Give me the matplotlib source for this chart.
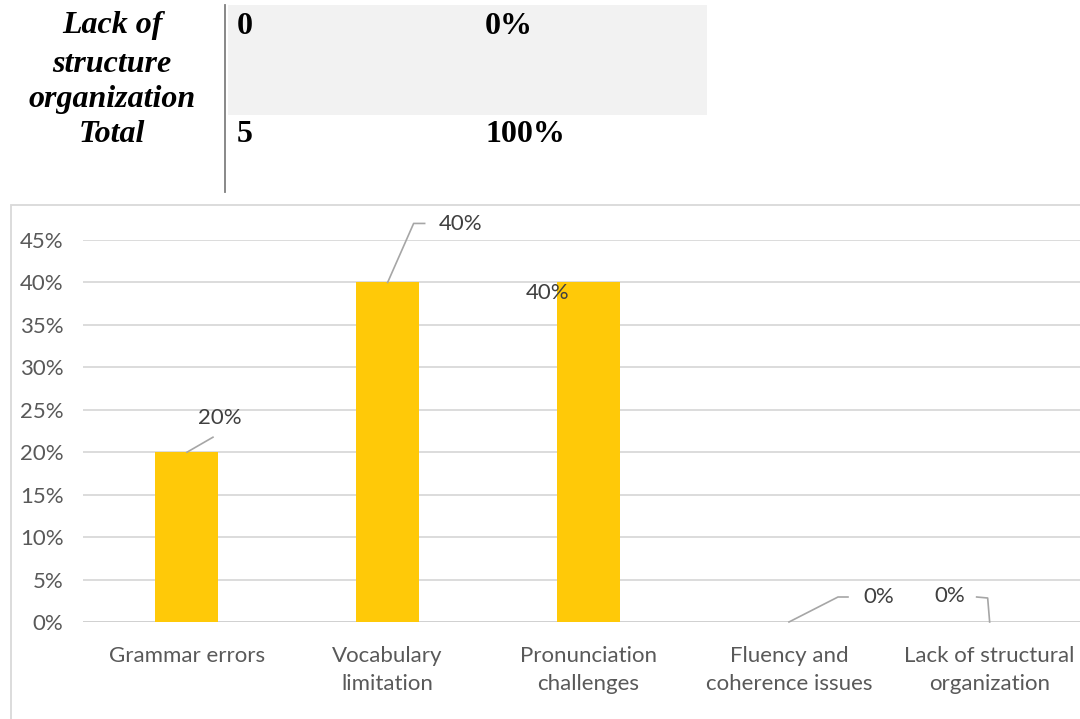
import matplotlib
matplotlib.use("Agg")
import matplotlib.pyplot as plt
from matplotlib.patches import Rectangle
from matplotlib.lines import Line2D

# table fragment above the chart
row_labels = ["Lack of\nstructure\norganization", "Total"]
row_counts = ["0", "5"]
row_pcts = ["0%", "100%"]

# chart data
categories = ["Grammar errors", "Vocabulary\nlimitation", "Pronunciation\nchallenges",
              "Fluency and\ncoherence issues", "Lack of structural\norganization"]
values = [0.20, 0.40, 0.40, 0.00, 0.00]
labels = ["20%", "40%", "40%", "0%", "0%"]

# label placement (pixels from bar top) and leader line elbows
label_offsets = [(33, 34), (73, 58), (-41, -11), (90, 25), (-40, 26)]
leaders = [
    [(0, 0), (26, 15)],
    [(0, 0), (26, 59), (37, 59)],
    None,
    [(0, 0), (49, 25), (59, 25)],
    [(0, 0), (-2, 24), (-13, 25)],
]

W, H = 1080, 719
fig = plt.figure(figsize=(W / 100, H / 100), dpi=100)
fig.patch.set_facecolor("white")

def fx(px):
    return px / W

def fy(py):
    return 1 - py / H

# ---- table part ----
fig.patches.append(Rectangle((fx(228), fy(115)), fx(707) - fx(228), fy(5) - fy(115),
                             transform=fig.transFigure, facecolor="#f2f2f2", edgecolor="none"))
fig.lines.append(Line2D([fx(225), fx(225)], [fy(5), fy(192)], transform=fig.transFigure,
                        color="#7f7f7f", lw=1.3))
serif = "Liberation Serif"
label_lines = row_labels[0].split("\n") + [row_labels[1]]
for txt, yy in zip(label_lines, [26, 64, 100, 135]):
    fig.text(fx(112), fy(yy), txt, ha="center", va="center", family=serif,
             weight="bold", style="italic", fontsize=23)
for i, yy in enumerate([26, 135]):
    fig.text(fx(237), fy(yy), row_counts[i], ha="left", va="center", family=serif,
             weight="bold", fontsize=23)
    fig.text(fx(485), fy(yy), row_pcts[i], ha="left", va="center", family=serif,
             weight="bold", fontsize=23)

# chart frame
fig.patches.append(Rectangle((fx(11), fy(730)), fx(1090) - fx(11), fy(205) - fy(730),
                             transform=fig.transFigure, facecolor="none",
                             edgecolor="#d9d9d9", lw=1.3))

# ---- bar chart ----
ax = fig.add_axes([fx(83), fy(622), fx(1090) - fx(83), fy(240) - fy(622)])
ax.set_xlim(-0.518, 4.5)
ax.set_ylim(0, 0.45)
x = list(range(len(categories)))
ax.bar(x, values, width=0.314, color="#FFC908", zorder=3)

yticks = [i * 0.05 for i in range(10)]
ax.set_yticks(yticks)
ax.set_yticklabels([f"{round(t * 100)}%" for t in yticks])
ax.set_xticks(x)
ax.set_xticklabels(categories, linespacing=1.5)
ax.grid(axis="y", color="#d9d9d9", lw=1.3, zorder=0)
for s in ax.spines.values():
    s.set_visible(False)
ax.tick_params(length=0, colors="#595959", labelsize=16)
ax.tick_params(axis="y", pad=14)
ax.tick_params(axis="x", pad=17)
for t in ax.get_xticklabels() + ax.get_yticklabels():
    t.set_family("Lato")
ax.axhline(0, color="#d0d0d0", lw=1.3, zorder=2)
ax.set_facecolor("none")

for i, v in enumerate(values):
    ax.annotate(labels[i], (x[i], v), xytext=label_offsets[i], textcoords="offset pixels",
                ha="center", va="center", fontsize=16, color="#404040", family="Lato",
                zorder=5, annotation_clip=False)
    if leaders[i]:
        px, py = ax.transData.transform((x[i], v))
        xs = [px + dx for dx, dy in leaders[i]]
        ys = [py + dy for dx, dy in leaders[i]]
        ax.add_line(Line2D(xs, ys, transform=None, color="#a6a6a6", lw=1.2,
                           zorder=4, clip_on=False))

fig.savefig("out.png", dpi=100)
